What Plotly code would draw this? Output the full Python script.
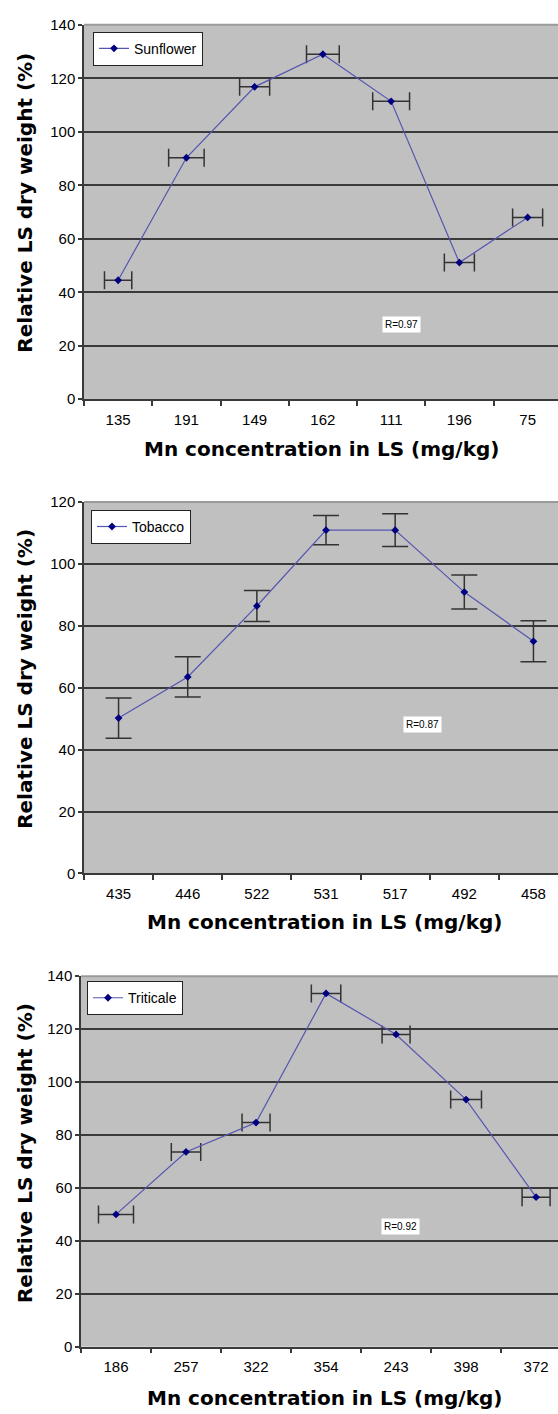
import plotly.graph_objects as go

# ---------------- data ----------------
sun_labels = ["135", "191", "149", "162", "111", "196", "75"]
sun_values = [44.5, 90.3, 116.8, 129.0, 111.4, 51.1, 68.0]
sun_xerr = [0.20, 0.26, 0.22, 0.24, 0.27, 0.22, 0.22]
sun_r = "R=0.97"

tob_labels = ["435", "446", "522", "531", "517", "492", "458"]
tob_values = [50.2, 63.5, 86.4, 110.9, 110.9, 90.9, 75.0]
tob_yerr = [6.5, 6.5, 5.0, 4.7, 5.3, 5.5, 6.6]
tob_r = "R=0.87"

tri_labels = ["186", "257", "322", "354", "243", "398", "372"]
tri_values = [50.0, 73.6, 84.7, 133.5, 118.0, 93.4, 56.5]
tri_xerr = [0.25, 0.21, 0.20, 0.21, 0.20, 0.22, 0.20]
tri_r = "R=0.92"

y_title = "Relative LS dry weight (%)"
x_title = "Mn concentration in LS (mg/kg)"

# ---------------- styling ----------------
W, H = 558, 1414
LINE_C = "#5555b0"
MARK_C = "#000080"
ERR_C = "#333333"
GRID_C = "#3a3a3a"
BG = "#c0c0c0"
FONT = "Liberation Sans, Arial, sans-serif"
BOLD = "DejaVu Sans, Arial Black, sans-serif"

def py(px):  # pixel from top -> paper y
    return 1 - px / H

def px_(x):
    return x / W

panels = [
    dict(name="Sunflower", labels=sun_labels, vals=sun_values, xerr=sun_xerr, yerr=None,
         r=sun_r, rpos=(4.15, 28), ymax=140, xl=84, top=16, bot=395, xmax=6.445, cap=9,
         leg=(93, 23), xt=(321, 445), yt=(25, 196)),
    dict(name="Tobacco", labels=tob_labels, vals=tob_values, xerr=None, yerr=tob_yerr,
         r=tob_r, rpos=(4.39, 48), ymax=120, xl=84, top=499, bot=875, xmax=6.355, cap=13,
         leg=(91, 507), xt=(324, 924), yt=(25, 678)),
    dict(name="Triticale", labels=tri_labels, vals=tri_values, xerr=tri_xerr, yerr=None,
         r=tri_r, rpos=(4.06, 45.5), ymax=140, xl=81, top=979, bot=1354, xmax=6.313, cap=9,
         leg=(87, 984), xt=(324, 1406), yt=(25, 1158)),
]

fig = go.Figure()
annotations = []
shapes = []
layout = dict(
    width=W, height=H, margin=dict(l=0, r=0, t=0, b=0),
    paper_bgcolor="white", plot_bgcolor=BG, showlegend=True,
    font=dict(family=FONT, color="black"),
)

for i, p in enumerate(panels, start=1):
    sfx = "" if i == 1 else str(i)
    xa, ya = "x" + sfx, "y" + sfx
    legname = "legend" + sfx
    tr = dict(
        x=list(range(len(p["labels"]))), y=p["vals"], mode="lines+markers",
        name=p["name"], xaxis=xa, yaxis=ya, legend=legname,
        line=dict(color=LINE_C, width=1.2),
        marker=dict(symbol="diamond", size=6, color=MARK_C),
    )
    if p["xerr"] is not None:
        tr["error_x"] = dict(type="data", array=p["xerr"], symmetric=True,
                             color=ERR_C, thickness=1.5, width=p["cap"])
    if p["yerr"] is not None:
        tr["error_y"] = dict(type="data", array=p["yerr"], symmetric=True,
                             color=ERR_C, thickness=1.5, width=p["cap"])
    fig.add_trace(go.Scatter(**tr))

    layout["xaxis" + sfx] = dict(
        domain=[px_(p["xl"]), 1], range=[-0.5, p["xmax"]], anchor=ya,
        tickmode="array", tickvals=list(range(len(p["labels"]))), ticktext=p["labels"],
        ticks="outside", ticklen=6, tickcolor="rgba(0,0,0,0)",
        tickfont=dict(size=15, family=FONT, color="black"),
        showgrid=False, zeroline=False, showline=True, linecolor=GRID_C, linewidth=1.5,
        minor=dict(ticks="outside", tick0=-0.5, dtick=1, ticklen=5,
                   tickcolor=GRID_C, tickwidth=1.5, showgrid=False),
        fixedrange=True,
    )
    layout["yaxis" + sfx] = dict(
        domain=[py(p["bot"]), py(p["top"])], range=[0, p["ymax"]], anchor=xa,
        tickmode="linear", tick0=0, dtick=20,
        ticks="outside", ticklen=4, tickcolor=GRID_C, tickwidth=1.5,
        tickfont=dict(size=15, family=FONT, color="black"),
        showgrid=True, gridcolor=GRID_C, gridwidth=1.5, zeroline=False,
        showline=True, linecolor=GRID_C, linewidth=1.5, fixedrange=True,
    )
    layout[legname] = dict(
        x=px_(p["leg"][0]), y=py(p["leg"][1]), xanchor="left", yanchor="top",
        bgcolor="white", bordercolor="#222222", borderwidth=1,
        font=dict(size=14, family=FONT, color="black"),
        itemwidth=30, tracegroupgap=0,
    )
    # light top border of plot area
    shapes.append(dict(type="line", xref=xa + " domain", yref=ya + " domain",
                       x0=0, x1=1, y0=1, y1=1, line=dict(color="#9a9a9a", width=2)))
    # R annotation
    annotations.append(dict(text=p["r"], x=p["rpos"][0], y=p["rpos"][1], xref=xa, yref=ya,
                            showarrow=False, bgcolor="white",
                            font=dict(size=10, family=FONT, color="black"), borderpad=2))
    # axis titles
    annotations.append(dict(text="<b>" + x_title + "</b>", x=px_(p["xt"][0]), y=py(p["xt"][1]),
                            xref="paper", yref="paper", showarrow=False,
                            xanchor="center", yanchor="middle",
                            font=dict(size=20, family=BOLD, color="black")))
    annotations.append(dict(text="<b>" + y_title + "</b>", x=px_(p["yt"][0]), y=py(p["yt"][1]),
                            xref="paper", yref="paper", showarrow=False, textangle=-90,
                            xanchor="center", yanchor="middle",
                            font=dict(size=20, family=BOLD, color="black")))

layout["annotations"] = annotations
layout["shapes"] = shapes
fig.update_layout(**layout)
fig.write_html("out.html")
